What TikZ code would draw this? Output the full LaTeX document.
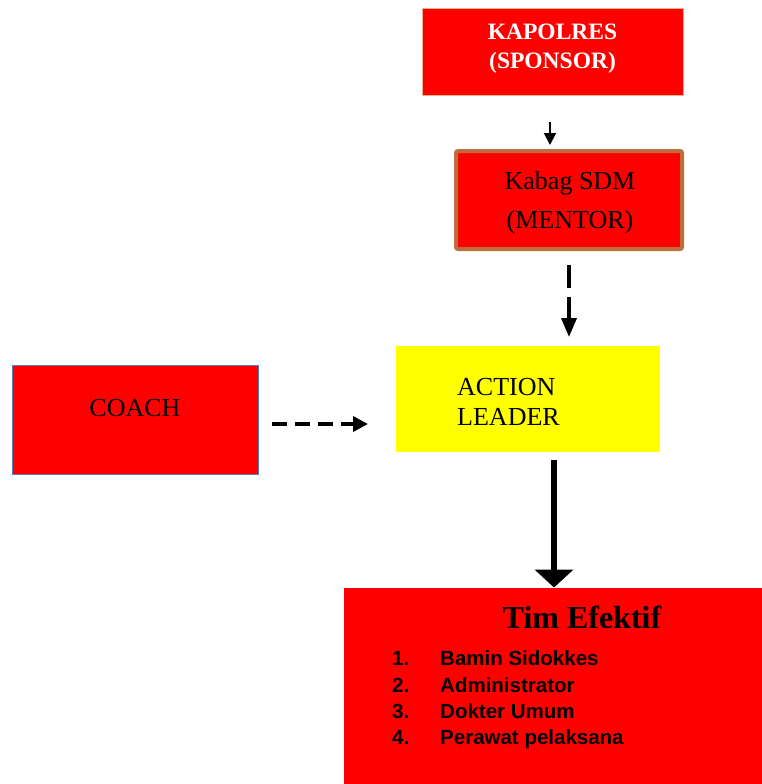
\documentclass[tikz,border=0pt]{standalone}
\usepackage{fontspec}
\setmainfont{Liberation Serif}
\newfontfamily\arialf{Liberation Sans}
\usetikzlibrary{arrows.meta}
\definecolor{bred}{RGB}{255,0,0}
\definecolor{ylw}{RGB}{255,255,0}
\definecolor{orbord}{RGB}{244,177,131}
\definecolor{brbord}{RGB}{190,110,60}
\definecolor{blbord}{RGB}{79,129,189}
\tikzset{
  box/.style={rectangle, inner sep=0pt, outer sep=0pt},
  txt/.style={inner sep=0pt, font=\fontsize{26}{39}\selectfont},
  lst/.style={inner sep=0pt, anchor=base west, font=\arialf\bfseries\fontsize{20.5}{22}\selectfont},
}
\begin{document}
\begin{tikzpicture}[x=1pt,y=-1pt]
\useasboundingbox (0,0) rectangle (762,784);
% KAPOLRES
\node[box, fill=bred, draw=orbord, line width=1pt, minimum width=261, minimum height=86] (kap) at (552.5,52) {};
\node[txt, text=white, align=center, font=\bfseries\fontsize{23.5}{29}\selectfont] (kapt) at (552.5,48.5) {KAPOLRES\\(SPONSOR)};
% Kabag SDM
\node[box, fill=bred, draw=brbord, line width=4pt, rounded corners=2pt, minimum width=226, minimum height=98] (kab) at (569,200) {};
\node[txt, align=center] (kabt) at (570,203) {Kabag SDM\\(MENTOR)};
% ACTION LEADER
\node[box, fill=ylw, minimum width=264, minimum height=106] (act) at (528,399) {};
\node[txt, anchor=west, align=left, font=\fontsize{26}{30}\selectfont] (actt) at (457,402) {ACTION\\LEADER};
% COACH
\node[box, fill=bred, draw=blbord, line width=1pt, minimum width=246, minimum height=109] (coach) at (135,419.5) {};
\node[txt] (coacht) at (135,408) {COACH};
% Tim Efektif
\node[box, fill=bred, minimum width=418, minimum height=197] (tim) at (553,686) {};
\node[inner sep=0pt, font=\bfseries\fontsize{32}{36}\selectfont] (timt) at (582,617) {Tim Efektif};
\node[lst] (n1) at (392,665) {1.};
\node[lst] (i1) at (440,665) {Bamin Sidokkes};
\node[lst] (n2) at (392,692) {2.};
\node[lst] (i2) at (440,692) {Administrator};
\node[lst] (n3) at (392,718) {3.};
\node[lst] (i3) at (440,718) {Dokter Umum};
\node[lst] (n4) at (392,744) {4.};
\node[lst] (i4) at (440,744) {Perawat pelaksana};
% connectors
\coordinate (a1s) at (550,122);
\coordinate (a1e) at (550,145);
\draw[line width=2pt, -{Triangle[width=12pt,length=12pt]}] (a1s) -- (a1e);
\coordinate (a2s) at (569,265);
\coordinate (a2e) at (569,337);
\draw[line width=3.5pt, dash pattern=on 23pt off 9pt, -{Triangle[width=15pt,length=19pt]}] (a2s) -- (a2e);
\coordinate (a3s) at (272,424);
\coordinate (a3e) at (368,424);
\draw[line width=3.5pt, dash pattern=on 15pt off 8pt, -{Triangle[width=15pt,length=15pt]}] (a3s) -- (a3e);
\coordinate (a4s) at (554,460);
\draw[line width=6pt, -{Triangle[width=38pt,length=18pt]}] (a4s) -- (tim.north -| a4s);
\end{tikzpicture}
\end{document}
